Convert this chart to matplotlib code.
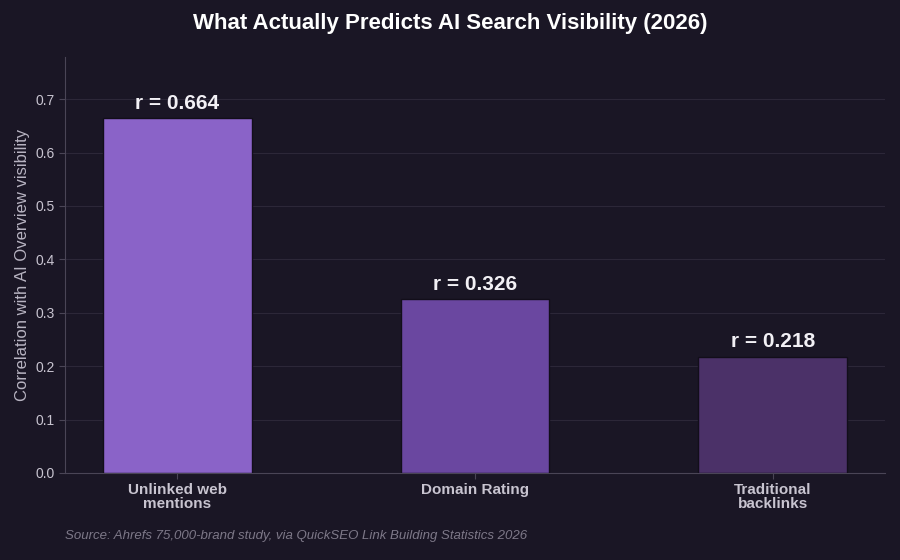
import matplotlib
matplotlib.use("Agg")
import matplotlib.pyplot as plt

plt.rcParams["font.family"] = ["Liberation Sans", "DejaVu Sans"]

categories = ["Unlinked web\nmentions", "Domain Rating", "Traditional\nbacklinks"]
values = [0.664, 0.326, 0.218]
labels = ["r = 0.664", "r = 0.326", "r = 0.218"]
colors = ["#8a63c8", "#6a47a0", "#4b3168"]

bg = "#1a1625"
fig = plt.figure(figsize=(9, 5.6), dpi=100, facecolor=bg)
ax = fig.add_axes([65/900, 1-473/560, 820/900, 416/560], facecolor=bg)
x = range(len(values))
ax.bar(x, values, width=0.5, color=colors, edgecolor="#120e1a", linewidth=1, zorder=3)
for xi, v, l in zip(x, values, labels):
    ax.text(xi, v + 0.01, l, ha="center", va="bottom", color="#f2f0f5", fontsize=15, fontweight="bold")
ax.set_xlim(-0.376, 2.376)
ax.set_ylim(0, 0.779)
ax.set_yticks([0, 0.1, 0.2, 0.3, 0.4, 0.5, 0.6, 0.7])
ax.set_yticklabels([f"{t:.1f}" for t in ax.get_yticks()], fontsize=10)
ax.set_xticks(list(x))
ax.set_xticklabels(categories, fontsize=11, fontweight="bold", linespacing=1.0)
ax.grid(axis="y", color="#2c2738", linewidth=0.8, zorder=0)
for s in ["top", "right"]:
    ax.spines[s].set_visible(False)
for s in ["left", "bottom"]:
    ax.spines[s].set_color("#4a4556")
ax.tick_params(color="#4a4556", labelcolor="#c8c4d0", length=4)
ax.set_ylabel("Correlation with AI Overview visibility", color="#b8b4c2", fontsize=12)
fig.text(0.5, 1-23/560, "What Actually Predicts AI Search Visibility (2026)", ha="center", va="center",
         color="#ffffff", fontsize=16, fontweight="bold")
fig.text(65/900, 1-536/560, "Source: Ahrefs 75,000-brand study, via QuickSEO Link Building Statistics 2026",
         ha="left", va="center", color="#7d7888", fontsize=9.5, style="italic")
fig.savefig("out.png", facecolor=bg)
